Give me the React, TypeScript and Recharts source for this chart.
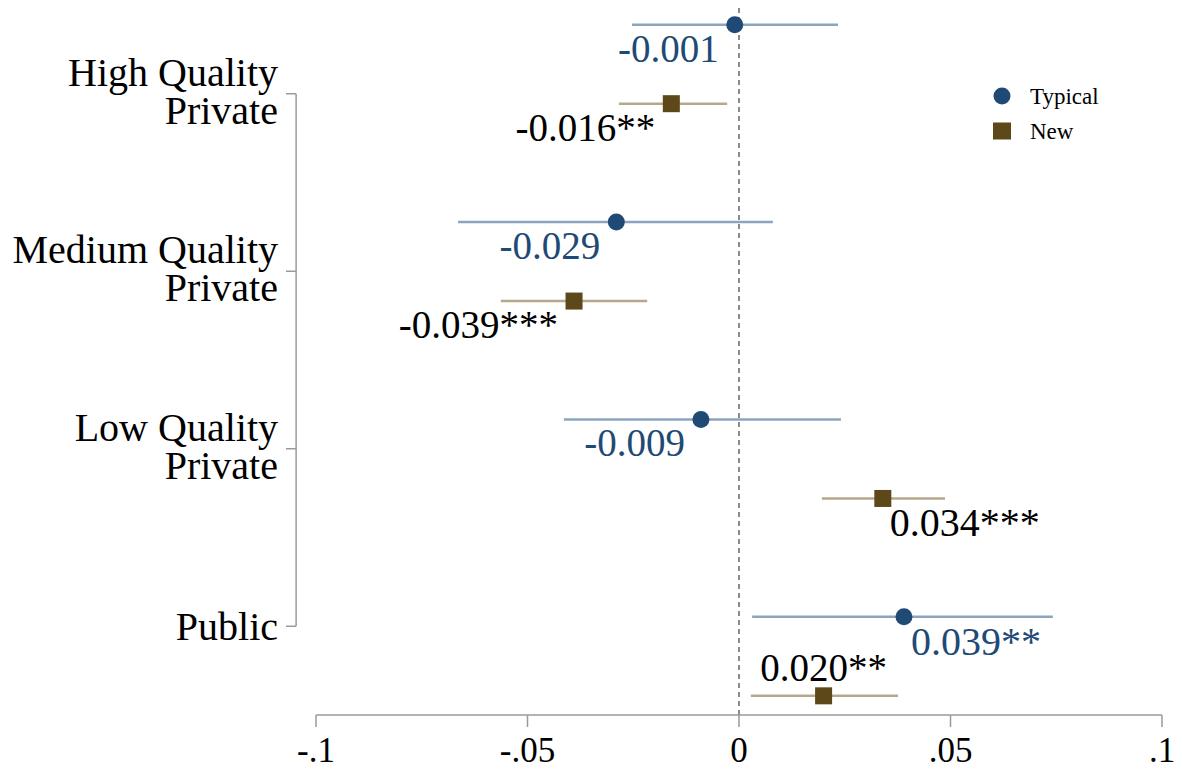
import React from "react";
import { ScatterChart, Scatter, XAxis, YAxis, ErrorBar, ReferenceLine } from "recharts";

// categories on the y axis (top to bottom)
const categories = ["High Quality Private", "Medium Quality Private", "Low Quality Private", "Public"];
const categoryLines = [["High Quality", "Private"], ["Medium Quality", "Private"], ["Low Quality", "Private"], ["Public"]];

// "Typical" series: coefficient, 95% CI, significance stars
const typicalCoef = [-0.001, -0.029, -0.009, 0.039];
const typicalLow = [-0.0253, -0.0664, -0.0414, 0.0031];
const typicalHigh = [0.0234, 0.008, 0.0241, 0.0742];
const typicalStars = ["", "", "", "**"];

// "New" series
const newCoef = [-0.016, -0.039, 0.034, 0.02];
const newLow = [-0.0284, -0.0563, 0.0196, 0.0028];
const newHigh = [-0.0028, -0.0217, 0.0487, 0.0376];
const newStars = ["**", "***", "***", "**"];

const xTicks = [-0.1, -0.05, 0, 0.05, 0.1];
const xTickLabels = ["-.1", "-.05", "0", ".05", ".1"];

const FONT = "'Liberation Serif', 'Times New Roman', serif";
const BLUE = "#1f4a75";
const BLUE_CI = "#8ca4bf";
const BROWN = "#5c4818";
const BROWN_CI = "#b6a98b";
const GRID = "#9a9a9a";

// vertical layout of the coefplot rows (axis units, category ticks at 1..4)
const rowStart = 0.611;
const groupStep = 1.112;
const pairGap = 0.445;

const build = (coef: number[], lo: number[], hi: number[], stars: string[], shift: number, series: string) =>
  categories.map((cat, i) => ({
    cat,
    idx: i,
    series,
    coef: coef[i],
    y: rowStart + groupStep * i + shift,
    err: [coef[i] - lo[i], hi[i] - coef[i]],
    label: coef[i].toFixed(3) + stars[i],
  }));

const typicalData = build(typicalCoef, typicalLow, typicalHigh, typicalStars, 0, "typical");
const newData = build(newCoef, newLow, newHigh, newStars, pairGap, "new");

const labelText = (p: any, cx: number, cy: number, color: string) => {
  if (p.series === "new" && p.idx === 3) {
    return (
      <text x={cx} y={cy - 15} textAnchor="middle" fontSize={39} fontFamily={FONT} fill={color}>
        {p.label}
      </text>
    );
  }
  if (p.coef < 0) {
    return (
      <text x={cx - 16} y={cy + 37} textAnchor="end" fontSize={39} fontFamily={FONT} fill={color}>
        {p.label}
      </text>
    );
  }
  return (
    <text x={cx + 7} y={cy + 38} textAnchor="start" fontSize={40} fontFamily={FONT} fill={color}>
      {p.label}
    </text>
  );
};

const TypicalShape = (props: any) => {
  const { cx, cy, payload } = props;
  return (
    <g>
      <circle cx={cx} cy={cy} r={8.5} fill={BLUE} />
      {labelText(payload, cx, cy, BLUE)}
    </g>
  );
};

const NewShape = (props: any) => {
  const { cx, cy, payload } = props;
  return (
    <g>
      <rect x={cx - 8.5} y={cy - 8.5} width={17} height={17} fill={BROWN} />
      {labelText(payload, cx, cy, "#000")}
    </g>
  );
};

const CategoryTick = (props: any) => {
  const { x, y, index } = props;
  const lines = categoryLines[index] || [];
  return (
    <g>
      <line x1={x - 20} x2={x - 30} y1={y} y2={y} stroke={GRID} strokeWidth={1.5} />
      <text textAnchor="end" fontSize={40} fontFamily={FONT} fill="#000">
        {lines.length === 1 ? (
          <tspan x={x - 38} y={y} dy="0.35em">
            {lines[0]}
          </tspan>
        ) : (
          lines.map((t: string, k: number) => (
            <tspan key={k} x={x - 38} y={y + (k === 0 ? -22 : 16)} dy="0.35em">
              {t}
            </tspan>
          ))
        )}
      </text>
    </g>
  );
};

export default function App() {
  return (
    <div style={{ position: "absolute", left: 0, top: 0, width: 1182, height: 769, background: "#fff" }}>
      <ScatterChart width={1182} height={769} margin={{ top: 5, right: 20, left: 0, bottom: 0 }}>
        <XAxis
          type="number"
          dataKey="coef"
          domain={[-0.1, 0.1]}
          ticks={xTicks}
          tickFormatter={(v: number, i: number) => xTickLabels[i] ?? String(v)}
          height={54}
          stroke={GRID}
          axisLine={{ stroke: GRID, strokeWidth: 1.5 }}
          tickLine={{ stroke: GRID, strokeWidth: 1.5 }}
          tickSize={12}
          tickMargin={10}
          tick={{ fill: "#000", fontSize: 35, fontFamily: FONT }}
          allowDataOverflow
        />
        <YAxis
          type="number"
          dataKey="y"
          reversed
          domain={[0.5, 4.5]}
          ticks={[1, 2, 3, 4]}
          width={316}
          axisLine={false}
          tickLine={false}
          tickSize={0}
          tickMargin={0}
          tick={<CategoryTick />}
          allowDataOverflow
        />
        <ReferenceLine
          segment={[{ x: -0.1047, y: 1 }, { x: -0.1047, y: 4 }]}
          ifOverflow="visible"
          stroke={GRID}
          strokeWidth={1.5}
        />
        <ReferenceLine x={0} stroke="#666" strokeWidth={1.5} strokeDasharray="5 4" />
        <Scatter data={typicalData} shape={<TypicalShape />} isAnimationActive={false}>
          <ErrorBar dataKey="err" direction="x" width={0} stroke={BLUE_CI} strokeWidth={2.5} />
        </Scatter>
        <Scatter data={newData} shape={<NewShape />} isAnimationActive={false}>
          <ErrorBar dataKey="err" direction="x" width={0} stroke={BROWN_CI} strokeWidth={2.5} />
        </Scatter>
      </ScatterChart>
      <svg width={150} height={70} style={{ position: "absolute", left: 985, top: 80, pointerEvents: "none" }}>
        <circle cx={17} cy={16} r={8.5} fill={BLUE} />
        <text x={45} y={16} dy="0.35em" fontSize={23} fontFamily={FONT} fill="#000">
          Typical
        </text>
        <rect x={8} y={42.5} width={18} height={17} fill={BROWN} />
        <text x={45} y={51} dy="0.35em" fontSize={23} fontFamily={FONT} fill="#000">
          New
        </text>
      </svg>
    </div>
  );
}
